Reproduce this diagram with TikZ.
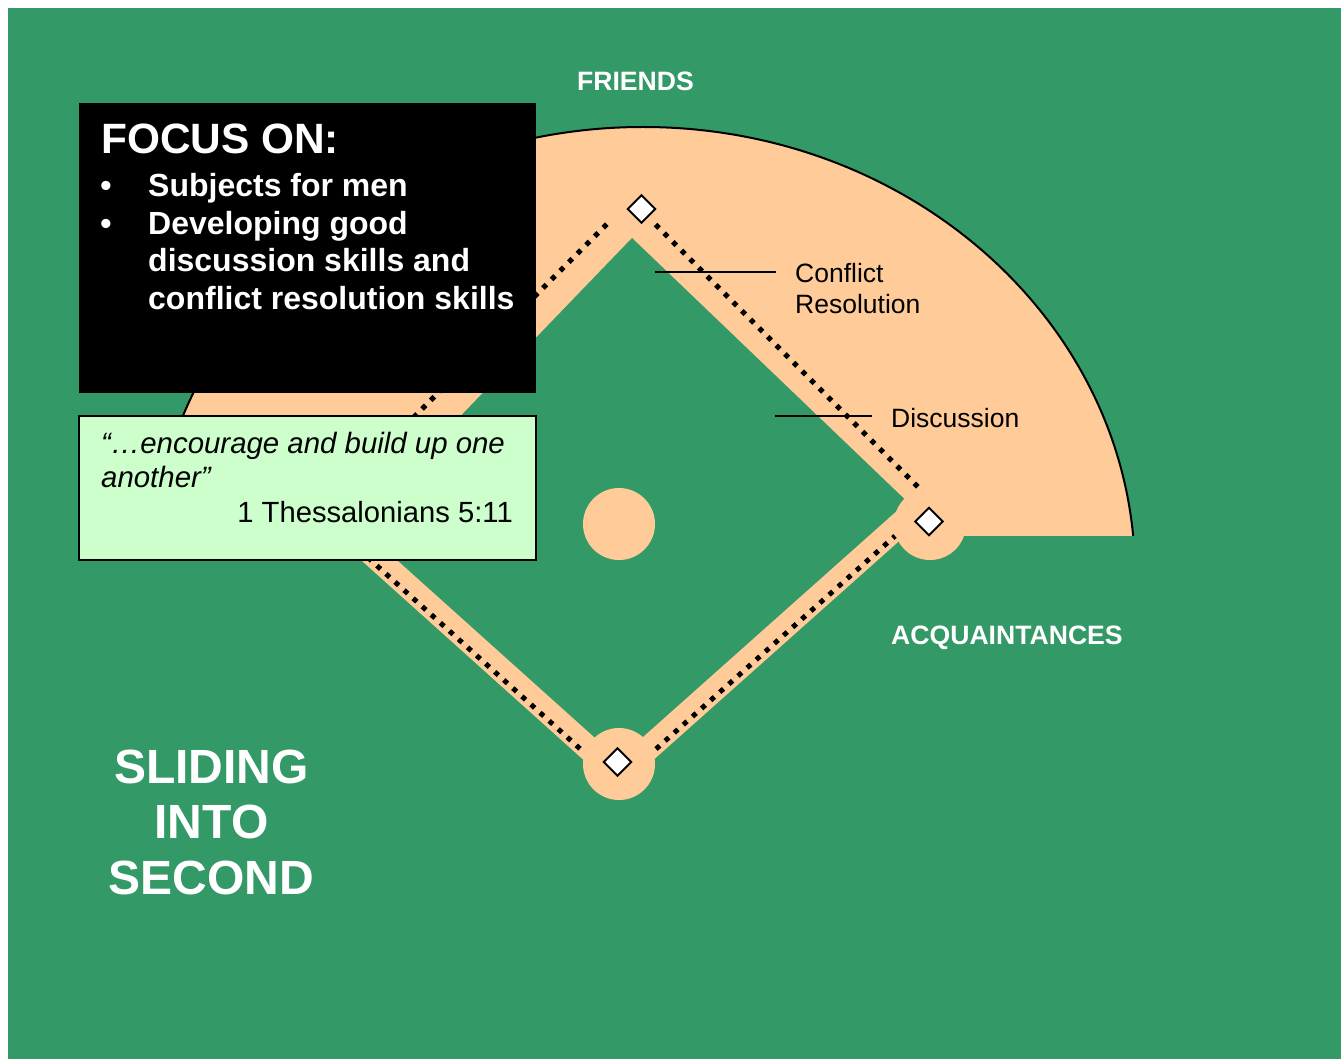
\documentclass[tikz,border=0pt]{standalone}
\usepackage{fontspec}
\setmainfont{Liberation Sans}
\definecolor{grass}{RGB}{51,153,102}
\definecolor{dirt}{RGB}{255,204,153}
\definecolor{paleg}{RGB}{204,255,204}
\begin{document}
\begin{tikzpicture}[x=1pt,y=-1pt,
  basepath/.style={line width=5pt,line cap=butt,dash pattern=on 5pt off 7.2pt,black},
  band/.style={line width=24pt,line cap=butt,dirt},
  bag/.style={draw=black,fill=white,line width=2pt,shape=rectangle,rotate=45,minimum size=19.5pt,inner sep=0pt},
  lbl/.style={font=\fontsize{26.5}{30}\selectfont,anchor=base west,inner sep=0pt,text=black},
  wlbl/.style={font=\fontsize{26.6}{30}\selectfont\bfseries,inner sep=0pt,text=white},
  big/.style={font=\fontsize{48}{55}\selectfont\bfseries,inner sep=0pt,text=white,anchor=base},
  focus/.style={font=\fontsize{32}{37}\selectfont\bfseries,inner sep=0pt,text=white,anchor=base west},
  quote/.style={font=\fontsize{29.2}{34}\selectfont,inner sep=0pt,text=black},
  leader/.style={line width=1.5pt,black}]
\useasboundingbox (0,0) rectangle (1341,1059);
\fill[white] (0,0) rectangle (1341,1059);
\fill[grass] (8,8) rectangle (1341,1059);
% outfield
\begin{scope}
  \clip (0,0) rectangle (1341,535);
  \fill[dirt] (643,575) ellipse [x radius=492, y radius=448];
  \draw[line width=2pt] (643,575) ellipse [x radius=492, y radius=448];
\end{scope}
% infield grass
\fill[grass] (632,238) -- (942,535) -- (942,548) -- (346,548) -- (346,535) -- cycle;
% base path bands
\coordinate (hb) at (608.8,766.5);
\coordinate (tb) at (316.5,504);
\coordinate (hf) at (625.4,768.8);
\coordinate (fb) at (913.7,512);
\draw[band] (hb) -- (tb);
\draw[band] (hf) -- (fb);
% dirt circles
\fill[dirt] (619,524) circle[radius=36];
\fill[dirt] (619,764) circle[radius=36];
\fill[dirt] (930,524) circle[radius=36];
% dotted base lines
\coordinate (s1) at (655.5,224.5);
\coordinate (f1) at (919,488);
\coordinate (s2) at (606.8,224.2);
\coordinate (t2) at (322,509);
\coordinate (h3) at (656,749);
\coordinate (f3) at (895,536);
\coordinate (h4) at (580,748.7);
\coordinate (t4) at (324,518);
\draw[basepath] (s1) -- (f1);
\draw[basepath] (s2) -- (t2);
\draw[basepath] (h3) -- (f3);
\draw[basepath] (h4) -- (t4);
% bases
\node[bag] (second) at (641.5,209) {};
\node[bag] (first) at (929,521.5) {};
\node[bag] (home) at (617.5,762) {};
% labels
\node[wlbl,anchor=base] (friends) at (635.5,90.3) {FRIENDS};
\node[wlbl,anchor=base west] (acq) at (891,644.5) {ACQUAINTANCES};
\node[lbl] (conf) at (795,283) {Conflict};
\node[lbl] (reso) at (795,313) {Resolution};
\node[lbl] (disc) at (891,427) {Discussion};
\coordinate (cra) at (655,272);
\coordinate (crb) at (776,272);
\coordinate (dia) at (775,416);
\coordinate (dib) at (872,416);
\draw[leader] (cra) -- (crb);
\draw[leader] (dia) -- (dib);
% focus box
\node[fill=black,anchor=north west,minimum width=457.5pt,minimum height=290pt,inner sep=0pt,outer sep=0pt] (focusbox) at (78.5,103) {};
\node[font=\fontsize{42.4}{48}\selectfont\bfseries,text=white,anchor=base west,inner sep=0pt] (focustitle) at (101,154) {FOCUS ON:};
\node[focus,anchor=base] (b1) at (106,197) {•};
\node[focus] (l1) at (148,197) {Subjects for men};
\node[focus,anchor=base] (b2) at (106,234.5) {•};
\node[focus] (l2) at (148,234.5) {Developing good};
\node[focus] (l3) at (148,272) {discussion skills and};
\node[focus] (l4) at (148,309.5) {conflict resolution skills};
% quote box
\node[draw=black,line width=2pt,fill=paleg,anchor=north west,minimum width=457pt,minimum height=144pt,inner sep=0pt,outer sep=0pt] (quotebox) at (79,416) {};
\node[quote,anchor=base west,font=\fontsize{29.4}{34}\selectfont\itshape] (q1) at (101,453) {“…encourage and build up one};
\node[quote,anchor=base west,font=\fontsize{29.4}{34}\selectfont\itshape] (q2) at (101,487) {another”};
\node[quote,anchor=base east] (q3) at (513,522) {1 Thessalonians 5:11};
% title
\node[big] (t1) at (211.5,783) {SLIDING};
\node[big] (t2n) at (211.5,838) {INTO};
\node[big] (t3n) at (211.5,894) {SECOND};
\end{tikzpicture}
\end{document}
